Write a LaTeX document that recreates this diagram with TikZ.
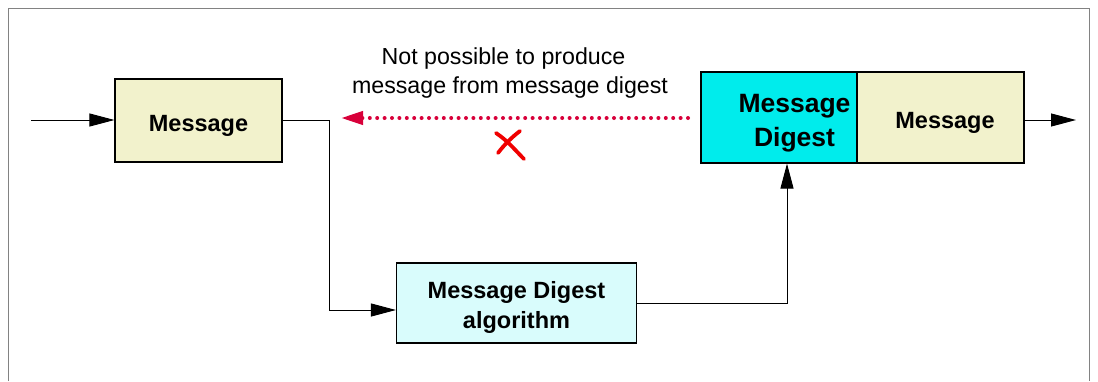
\documentclass[tikz,border=0pt]{standalone}
\usepackage{fontspec}
\setmainfont{Liberation Sans}
\usetikzlibrary{arrows.meta}
\definecolor{boxyellow}{RGB}{242,242,204}
\definecolor{algocyan}{RGB}{217,252,252}
\definecolor{digcyan}{RGB}{0,236,236}
\definecolor{framegray}{RGB}{130,130,130}
\definecolor{dotred}{RGB}{216,0,58}
\definecolor{xred}{RGB}{240,0,0}
\tikzset{
  boxstyle/.style={draw=black, line width=1.1pt, inner sep=0pt, align=center,
    font=\bfseries\fontsize{23.5}{30}\selectfont},
  onelinebox/.style={boxstyle, text height=21pt, text depth=0pt},
  arr/.style={draw=black, line width=1pt, -{Triangle[length=25pt,width=13pt]}},
  plainline/.style={draw=black, line width=1pt},
  redarr/.style={draw=dotred, line width=4pt, line cap=round, dash pattern=on 0pt off 7.4pt,
    -{Triangle[length=22pt,width=13pt,line cap=butt]}},
  xstroke/.style={draw=xred, line width=3.8pt, line cap=round}
}
\begin{document}
\begin{tikzpicture}[x=1pt,y=-1pt]
\useasboundingbox (0,0) rectangle (1098,381);
\fill[white] (0,0) rectangle (1098,381);
% frame
\draw[framegray, line width=1pt] (8,381) -- (8,8) -- (1089,8) -- (1089,381);
% nodes
\node[onelinebox, fill=boxyellow, minimum width=167pt, minimum height=83pt] (m1) at (198.5,120.5) {Message};
\node[boxstyle, fill=algocyan, minimum width=240pt, minimum height=80pt] (algo) at (516.5,303)
  {\rule{0pt}{28pt}Message Digest\\algorithm\rule[-8pt]{0pt}{0pt}};
\node[boxstyle, fill=digcyan, minimum width=187pt, minimum height=91pt,
  font=\bfseries\fontsize{26.5}{34}\selectfont] (digest) at (794.5,117.5)
  {\rule{0pt}{32.4pt}Message\\Digest\rule[-8pt]{0pt}{0pt}};
\node[onelinebox, fill=boxyellow, minimum width=167pt, minimum height=91pt] (m2) at (940.5,117.5) {\hspace*{9pt}Message};
% label
\node[align=center, inner sep=0pt, font=\fontsize{23.2}{29}\selectfont] (lbl) at (510,72.8)
  {\rule{0pt}{20pt}Not possible to produce\rule{13pt}{0pt}\\message from message digest\rule[-8pt]{0pt}{0pt}};
% coordinates
\coordinate (inp) at (31,120);
\coordinate (outp) at (1076,120);
\coordinate (corner) at (329,120);
\coordinate (redend) at (341,118);
\coordinate (redstart) at (688,118);
% connectors
\draw[arr] (inp) -- (m1.west |- inp);
\draw[plainline] (m1.east |- corner) -- (corner) -- (corner |- 0,310);
\draw[arr] (corner |- 0,310) -- (algo.west |- 0,310);
\draw[arr] (algo.east) -| ([xshift=-7.5pt]digest.south);
\draw[arr] (m2.east |- outp) -- (outp);
\draw[redarr] (redstart) -- (redend);
% red X
\draw[xstroke] (496,133) .. controls (508,141) and (515,150) .. (524,159);
\draw[xstroke] (520,131) .. controls (512,137) and (504,145) .. (498,153);
\end{tikzpicture}
\end{document}
